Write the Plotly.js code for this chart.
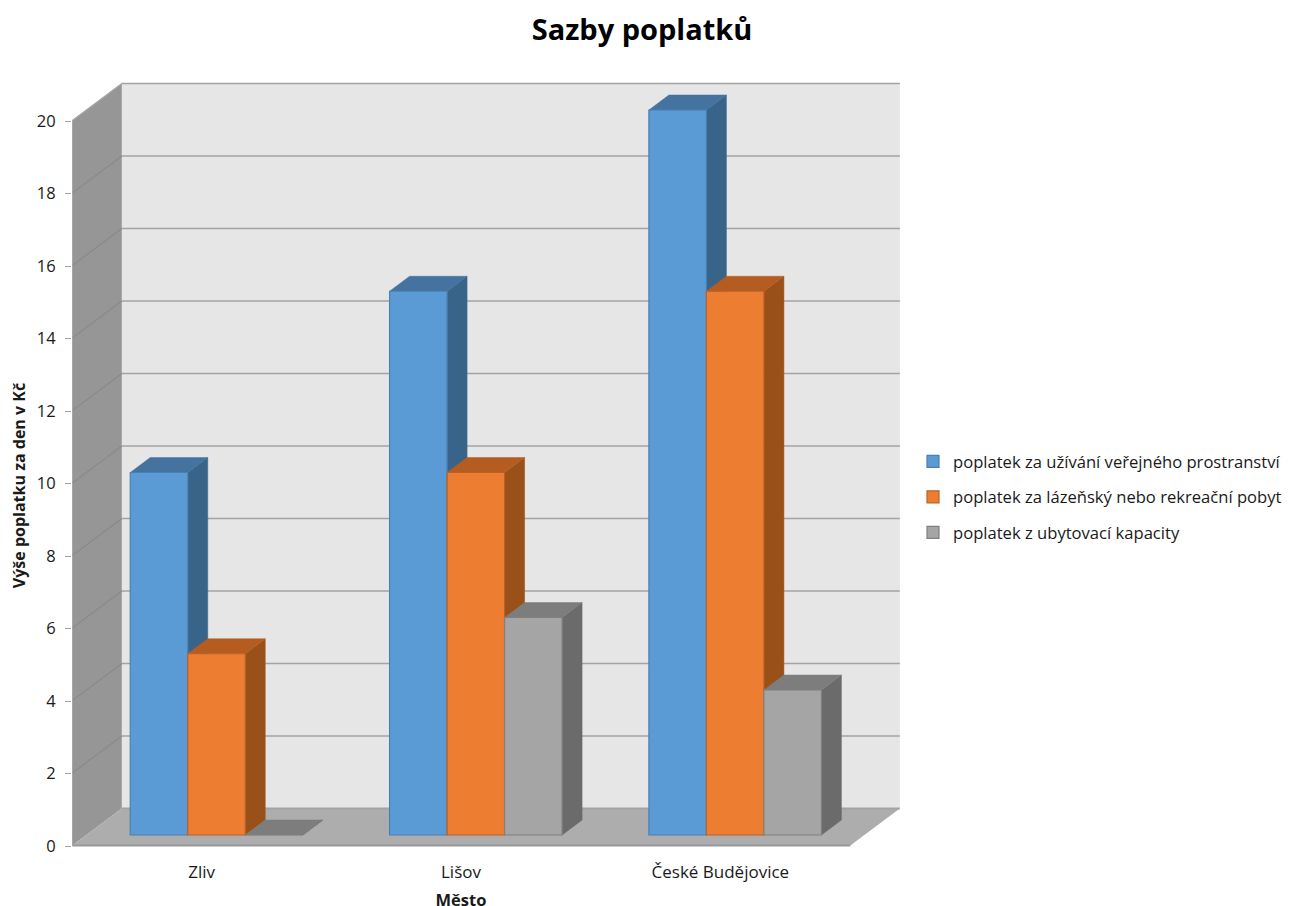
<!DOCTYPE html>
<html><head><meta charset="utf-8">
<script src="https://cdn.plot.ly/plotly-3.0.1.min.js"></script>
<style>html,body{margin:0;padding:0;background:#fff;overflow:hidden;width:1289px;height:906px}#chart{width:1289px;height:920px}</style>
</head><body><div id="chart"></div>
<script>
const categories = ["Zliv", "Lišov", "České Budějovice"];
const seriesNames = ["poplatek za užívání veřejného prostranství", "poplatek za lázeňský nebo rekreační pobyt", "poplatek z ubytovací kapacity"];
const verejneProstranstvi = [10, 15, 20];
const lazenskyPobyt = [5, 10, 15];
const ubytovaciKapacita = [0, 6, 4];
const yTicks = [0, 2, 4, 6, 8, 10, 12, 14, 16, 18, 20];

const W = 1289, H = 920, FONT = "'Open Sans', sans-serif", TXT = "#1a1a1a";
const catPx = 259.33, unitPx = 36.25;
const barW = 57.5 / catPx;
const depthX = 20 / catPx, depthY = 15 / unitPx;
const frontX = -14.5 / catPx, frontY = -10.5 / unitPx;
const backX = 35 / catPx, backY = 26.5 / unitPx;
const styles = [
  {front:"#5b9bd5", edge:"#4a7fb0", side:"#39648a", top:"#44739f"},
  {front:"#ed7d31", edge:"#b8622a", side:"#9a5119", top:"#b55d20"},
  {front:"#a5a5a5", edge:"#808080", side:"#6b6b6b", top:"#7d7d7d"}
];
const seriesValues = [verejneProstranstvi, lazenskyPobyt, ubytovaciKapacita];
const idx = categories.map((_, i) => i);

const traces = [{
  x: categories, y: verejneProstranstvi, xaxis: "x", yaxis: "y", type: "scatter",
  mode: "none", showlegend: false, hoverinfo: "skip"
}];

seriesValues.forEach((vals, s) => {
  const st = styles[s], off = -1.5 * barW + s * barW;
  const sideX = [], sideY = [], topX = [], topY = [];
  vals.forEach((v, i) => {
    const l = i + off, r = l + barW;
    sideX.push(r, r + depthX, r + depthX, r, r, null);
    sideY.push(0, depthY, v + depthY, v, 0, null);
    topX.push(l, r, r + depthX, l + depthX, l, null);
    topY.push(v, v, v + depthY, v + depthY, v, null);
  });
  const face = (xs, ys, c) => ({
    x: xs, y: ys, xaxis: "x2", yaxis: "y2", type: "scatter", mode: "lines", fill: "toself",
    fillcolor: c, line: {color: c, width: 0.5}, showlegend: false, hoverinfo: "skip",
    legendgroup: "g" + s, zorder: 2 * s
  });
  traces.push(face(sideX, sideY, st.side));
  traces.push(face(topX, topY, st.top));
  traces.push({
    type: "bar", name: seriesNames[s], x: idx, y: vals, xaxis: "x2", yaxis: "y2",
    width: barW, offset: off, legendgroup: "g" + s, zorder: 2 * s + 1,
    marker: {color: st.front, line: {color: st.edge, width: 1.2}}
  });
});

const L = -0.5, R = 2.5;
const shapes = [];
const wall = (pts, fill) => ({
  type: "path", xref: "x2", yref: "y2", layer: "below", fillcolor: fill,
  line: {width: 0},
  path: "M" + pts.map(p => p.join(",")).join("L") + "Z"
});
const edge = (x0, y0, x1, y1, color, width) => ({
  type: "line", xref: "x2", yref: "y2", layer: "below", x0, x1, y0, y1, line: {color, width}
});
const maxTick = yTicks[yTicks.length - 1];
shapes.push(wall([[L + backX, backY], [R + backX, backY], [R + backX, maxTick + backY], [L + backX, maxTick + backY]], "#e6e6e6"));
shapes.push(wall([[L + frontX, frontY], [L + backX, backY], [L + backX, maxTick + backY], [L + frontX, maxTick + frontY]], "#969696"));
shapes.push(wall([[L + frontX, frontY], [R + frontX, frontY], [R + backX, backY], [L + backX, backY]], "#adadad"));
yTicks.forEach(t => {
  if (t !== 0) shapes.push(edge(L + frontX, t + frontY, L + backX, t + backY, t === maxTick ? "#a6a6a6" : "#8a8a8a", 1.2));
  shapes.push(edge(L + backX, t + backY, R + backX, t + backY, "#a3a3a3", t === 0 ? 1.8 : 1.5));
});
shapes.push(edge(L + frontX, frontY, R + frontX, frontY, "#999999", 1.8));
shapes.push(edge(L + frontX, frontY, L + frontX, maxTick + frontY, "#a3a3a3", 1));

const layout = {
  width: W, height: H, margin: {l: 0, r: 0, t: 0, b: 0},
  paper_bgcolor: "#fff", plot_bgcolor: "rgba(0,0,0,0)", barmode: "overlay",
  font: {family: FONT, color: TXT, size: 16.5},
  title: {text: "<b>Sazby poplatků</b>", font: {family: FONT, size: 29, color: "#000"},
    x: 642 / W, xanchor: "center", xref: "paper", y: 1 - 30 / H, yanchor: "middle", yref: "paper"},
  xaxis: {domain: [72 / W, 850 / W], anchor: "y", type: "category", categoryarray: categories, range: [-0.5, 2.5],
    showgrid: false, zeroline: false, showline: false, ticks: "", ticklen: 0, ticklabelstandoff: 9,
    tickfont: {family: FONT, size: 17, color: TXT},
    title: {text: "<b>Město</b>", font: {family: FONT, size: 16.5, color: TXT}, standoff: 12}},
  yaxis: {domain: [1 - 850.5 / H, 1 - 120.5 / H], anchor: "x", range: [-0.124, 20.014], tickmode: "array", tickvals: yTicks,
    showgrid: false, zeroline: false, showline: false, ticks: "outside", ticklen: 6, tickcolor: "#a6a6a6", tickwidth: 1.2,
    ticklabelstandoff: 6,
    tickfont: {family: FONT, size: 16.5, color: TXT},
    title: {text: "<b>Výše poplatku za den v Kč</b>", font: {family: FONT, size: 16, color: TXT}, standoff: 7}},
  xaxis2: {domain: [72 / W, 901 / W], anchor: "y2", range: [-0.5572, 2.6395], visible: false, fixedrange: true},
  yaxis2: {domain: [1 - 850 / H, 1 - 80 / H], anchor: "x2", range: [-0.4138, 20.828], visible: false, fixedrange: true},
  shapes: shapes,
  showlegend: true,
  legend: {x: 913 / W, y: 1 - 444 / H, xanchor: "left", yanchor: "top", tracegroupgap: 11,
    font: {family: FONT, size: 16.6, color: TXT}, bgcolor: "rgba(0,0,0,0)", itemclick: false, itemdoubleclick: false}
};
Plotly.newPlot("chart", traces, layout, {displayModeBar: false, responsive: false});
</script></body></html>
